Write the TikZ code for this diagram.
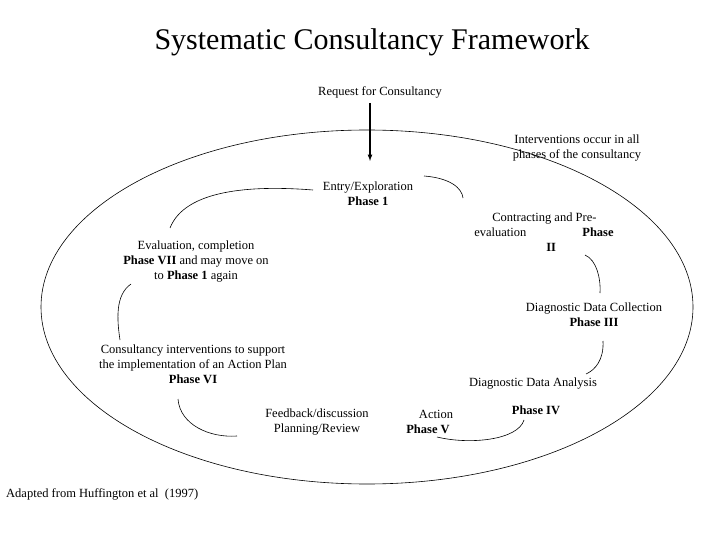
\documentclass[tikz,border=0pt]{standalone}
\usepackage{fontspec}
\setmainfont{Liberation Serif}
\begin{document}
\begin{tikzpicture}[x=1pt,y=-1pt,
  txt/.style={font=\fontsize{12.5}{15}\selectfont,align=center,inner sep=0pt},
  arc/.style={draw,line width=0.6pt}]
\useasboundingbox (0,0) rectangle (720,540);
\node[font=\fontsize{30}{34}\selectfont,inner sep=0pt] (title) at (372,42) {Systematic Consultancy Framework};
\node[txt] (req) at (380,92) {Request for Consultancy};
\coordinate (arrS) at (370,103);
\coordinate (arrE) at (370,161);
\draw[line width=1.2pt,-latex] (arrS) -- (arrE);
\draw[line width=0.6pt] (367,307) ellipse [x radius=326, y radius=177];
\node[txt] (int) at (577,148) {Interventions occur in all\\phases of the consultancy};
\node[txt] (p1) at (368,194) {Entry/Exploration\\\textbf{Phase 1}};
\node[txt,align=left] (p2) at (544,232) {\hspace*{18pt}Contracting and Pre-\\evaluation\hspace{56pt}\textbf{Phase}\\\hspace*{72pt}\textbf{II}};
\node[txt] (p7) at (196,262) {Evaluation, completion\\\textbf{Phase VII} and may move on\\to \textbf{Phase 1} again};
\node[txt] (p3) at (594,315) {Diagnostic Data Collection\\\textbf{Phase III}};
\node[txt] (p6) at (193,364) {Consultancy interventions to support\\the implementation of an Action Plan\\\textbf{Phase VI}};
\node[txt] (p4a) at (533,384) {Diagnostic Data Analysis};
\node[txt] (p4) at (536,410) {\textbf{Phase IV}};
\node[txt] (fb) at (317,422) {Feedback/discussion\\Planning/Review};
\node[txt] (p5) at (428,422) {\hspace*{16pt}Action\\\textbf{Phase V}};
\node[txt,anchor=west] (src) at (6,494) {Adapted from Huffington et al\ \ (1997)};
% arcs
\draw[arc] (170,228) .. controls (185,190) and (250,185) .. (313,190);
\draw[arc] (424,176) .. controls (450,178) and (462,188) .. (463,198);
\draw[arc] (585,255) .. controls (597,260) and (601,280) .. (600,293);
\draw[arc] (131,284) .. controls (115,295) and (117,320) .. (120,340);
\draw[arc] (603,341) .. controls (604,360) and (595,370) .. (586,374);
\draw[arc] (178,399) .. controls (180,425) and (210,438) .. (237,436);
\draw[arc] (524,420) .. controls (518,440) and (470,445) .. (437,437);
\end{tikzpicture}
\end{document}
